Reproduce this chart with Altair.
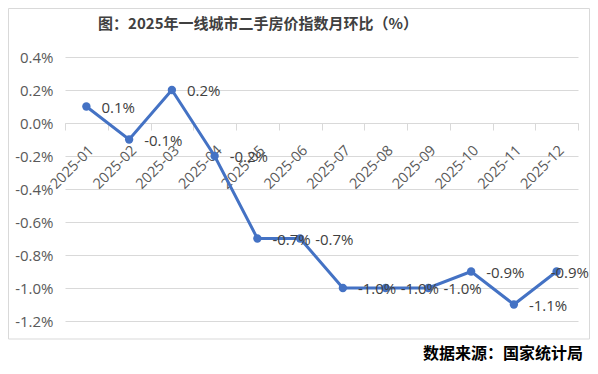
import altair as alt
import pandas as pd

months = ["2025-01", "2025-02", "2025-03", "2025-04", "2025-05", "2025-06",
          "2025-07", "2025-08", "2025-09", "2025-10", "2025-11", "2025-12"]
values = [0.1, -0.1, 0.2, -0.2, -0.7, -0.7, -1.0, -1.0, -1.0, -0.9, -1.1, -0.9]
y_ticks = [-1.2, -1.0, -0.8, -0.6, -0.4, -0.2, 0.0, 0.2, 0.4]
title_text = "图：2025年一线城市二手房价指数月环比（%）"
source_text = "数据来源：国家统计局"

df = pd.DataFrame({"month": months, "value": values,
                   "label": [f"{v:.1f}%" for v in values]})
one = pd.DataFrame({"a": [0]})

W, H = 513, 264
BLUE = "#4472C4"
GRID = "#d9d9d9"
NUMFONT = "Open Sans"
CJK = "Noto Sans CJK SC"

xscale = alt.Scale(type="band", paddingInner=0, paddingOuter=0)
yscale = alt.Scale(domain=[-1.2, 0.4], nice=False, zero=False)

x_axis = alt.Axis(
    orient="bottom", offset=-198, title=None, grid=False,
    labelAngle=-45, labelAlign="right", labelBaseline="middle",
    labelOffset=5, labelPadding=18, tickBand="extent", tickSize=7,
    tickColor=GRID, domainColor=GRID, labelColor="#595959",
    labelFontSize=14.5, labelFont=NUMFONT,
)
y_axis = alt.Axis(
    values=y_ticks, title=None, domain=False, ticks=False,
    labelExpr="(datum.value < -0.0001 ? '-' : '') + format(abs(datum.value), '.1f') + '%'",
    labelPadding=12, labelColor="#595959", labelFontSize=15, labelFont=NUMFONT,
    gridColor=GRID, gridWidth=1,
)

base = alt.Chart(df)
x_enc = alt.X("month:O", bandPosition=0.5, scale=xscale, axis=x_axis)
y_enc = alt.Y("value:Q", scale=yscale, axis=y_axis)

line = base.mark_line(color=BLUE, strokeWidth=3).encode(x=x_enc, y=y_enc)
pts = base.mark_circle(color=BLUE, size=70, opacity=1).encode(x=x_enc, y=y_enc)
labels = base.transform_filter("datum.month != '2025-12'").mark_text(
    align="left", baseline="middle", dx=15, dy=1, fontSize=15,
    color="#404040", font=NUMFONT,
).encode(x=x_enc, y=y_enc, text="label:N")
last_label = base.transform_filter("datum.month == '2025-12'").mark_text(
    align="left", baseline="middle", dx=-6, dy=1, fontSize=15,
    color="#404040", font=NUMFONT,
).encode(x=x_enc, y=y_enc, text="label:N")

frame = alt.Chart(one).mark_rect(filled=False, stroke=GRID, strokeWidth=1).encode(
    x=alt.value(-56.5), x2=alt.value(524.5), y=alt.value(-48.5), y2=alt.value(282)
)
title = alt.Chart(one).mark_text(
    text=title_text, font=CJK, fontSize=15, fontWeight="bold", color="#404040",
    align="center", baseline="middle",
).encode(x=alt.value(193), y=alt.value(-33))
source = alt.Chart(one).mark_text(
    text=source_text, font=CJK, fontSize=16, fontWeight="bold", color="#000000",
    align="right", baseline="middle",
).encode(x=alt.value(518), y=alt.value(297))

chart = alt.layer(line, pts, labels, last_label, frame, title, source).properties(
    width=W, height=H,
    background="white",
    autosize=alt.AutoSizeParams(type="none"),
    padding={"left": 57, "top": 49, "right": 12, "bottom": 45},
).configure_view(stroke="transparent")

chart.save("out.html", embed_options={"renderer": "svg", "actions": False})
